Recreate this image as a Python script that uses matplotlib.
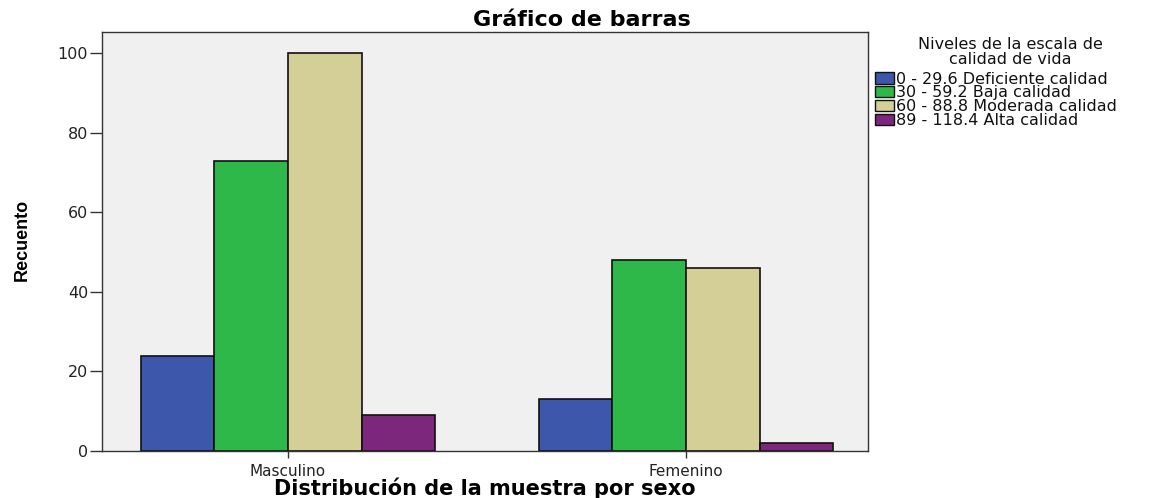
import matplotlib
matplotlib.use("Agg")
import matplotlib.pyplot as plt
import numpy as np
from matplotlib.patches import Patch

plt.rcParams['font.family'] = ['DejaVu Sans']

categories = ["Masculino", "Femenino"]
series_names = ["0 - 29.6 Deficiente calidad", "30 - 59.2 Baja calidad",
                "60 - 88.8 Moderada calidad", "89 - 118.4 Alta calidad"]
deficiente = [24, 13]
baja = [73, 48]
moderada = [100, 46]
alta = [9, 2]
series_values = [deficiente, baja, moderada, alta]
colors = ["#3d57ab", "#2eb84a", "#d4ce97", "#7c277c"]
yticks = [0, 20, 40, 60, 80, 100]

W, H = 1163, 498
fig = plt.figure(figsize=(W / 100, H / 100), dpi=100)
ax = fig.add_axes([102/W, 47/H, 766/W, 419/H])
ax.set_facecolor("#f0f0f0")

x = np.arange(len(categories))
w = 0.185
offsets = [-1.5, -0.5, 0.5, 1.5]
for vals, col, off in zip(series_values, colors, offsets):
    ax.bar(x + off * w, vals, width=w, color=col, edgecolor="#111111", linewidth=1.2, zorder=2)

ax.set_xlim(-0.467, 1.457)
ax.set_ylim(0, 105.3)
ax.set_xticks(x)
ax.set_xticklabels(categories, fontsize=11, color="#222222")
ax.set_yticks(yticks)
ax.set_yticklabels([str(t) for t in yticks], fontsize=11.5, color="#222222")
ax.tick_params(axis='y', length=9, width=1, pad=1, color="#333333")
ax.tick_params(axis='x', length=5, width=1, pad=4, color="#333333")
for s in ax.spines.values():
    s.set_linewidth(1)
    s.set_color("#333333")

fig.text(0.5, 1 - 26/H, "Gráfico de barras", fontsize=16, fontweight="bold",
         ha="center", va="baseline")
ax.set_ylabel("Recuento", fontsize=13, fontweight="bold",
              family=['Liberation Sans Narrow', 'Liberation Sans', 'DejaVu Sans'])
ax.yaxis.set_label_coords(-0.104, 0.504)
ax.yaxis.label.set_va('center')
ax.set_xlabel("Distribución de la muestra por sexo", fontsize=15, fontweight="bold")
ax.xaxis.set_label_coords(0.5, -0.105)
ax.xaxis.label.set_va('baseline')

fig.text(1010/W, 1 - 52/H, "Niveles de la escala de\ncalidad de vida", fontsize=11.5,
         ha="center", va="center", multialignment="center", linespacing=0.95, color="#111111")

handles = [Patch(facecolor=c, edgecolor="#111111", linewidth=1) for c in colors]
leg = fig.legend(handles, series_names, loc="upper left", bbox_to_anchor=(873/W, 1 - 70/H),
                 frameon=False, fontsize=11.5, handlelength=1.2, handleheight=0.7,
                 handletextpad=0.15, labelspacing=-0.07, borderpad=0.1, borderaxespad=0)
for t in leg.get_texts():
    t.set_color("#111111")

fig.savefig("out.png", dpi=100)
